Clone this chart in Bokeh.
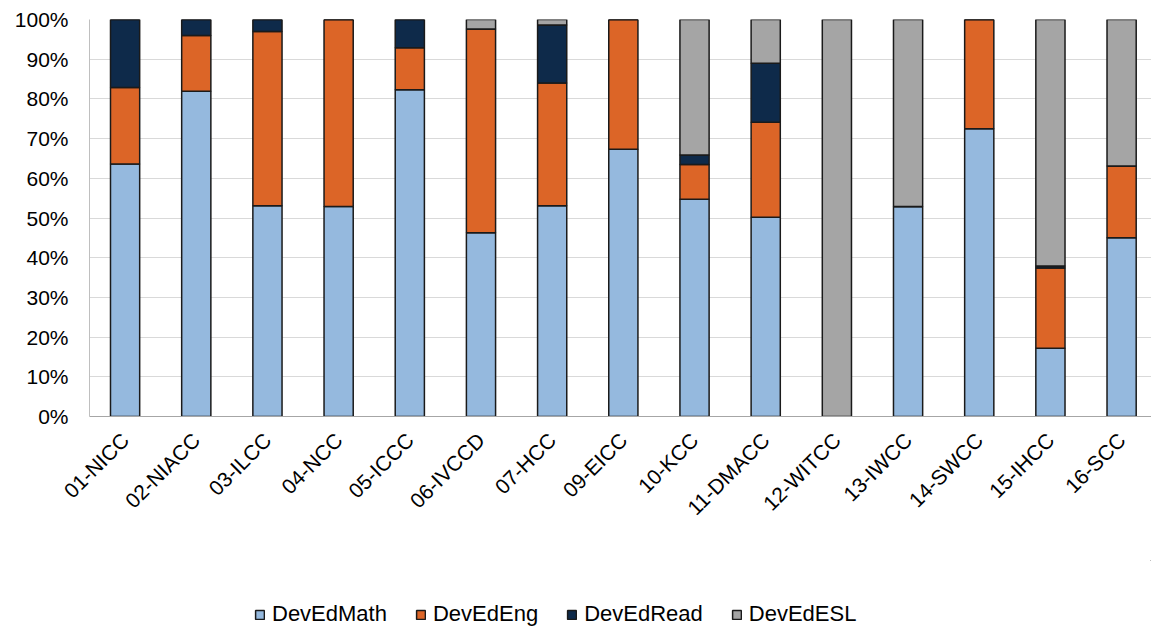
from bokeh.plotting import figure
from bokeh.models import (ColumnDataSource, Range1d, FixedTicker, PrintfTickFormatter,
                          Legend, LegendItem)
from bokeh.layouts import column
from bokeh.embed import file_html
from bokeh.resources import INLINE
import math as m

categories = ["01-NICC", "02-NIACC", "03-ILCC", "04-NCC", "05-ICCC", "06-IVCCD", "07-HCC",
              "09-EICC", "10-KCC", "11-DMACC", "12-WITCC", "13-IWCC", "14-SWCC", "15-IHCC", "16-SCC"]
dev_math = [63.6, 81.9, 53.1, 52.9, 82.3, 46.3, 53.1, 67.3, 54.7, 50.2, 0.0, 52.9, 72.5, 17.2, 45.0]
dev_eng = [19.3, 14.1, 43.9, 47.1, 10.6, 51.3, 30.9, 32.7, 8.8, 23.9, 0.0, 0.0, 27.5, 20.2, 18.1]
dev_read = [17.1, 4.0, 3.0, 0.0, 7.1, 0.0, 14.6, 0.0, 2.4, 14.9, 0.0, 0.0, 0.0, 0.5, 0.0]
dev_esl = [0.0, 0.0, 0.0, 0.0, 0.0, 2.4, 1.4, 0.0, 34.1, 11.0, 100.0, 47.1, 0.0, 62.1, 36.9]
series = ["DevEdMath", "DevEdEng", "DevEdRead", "DevEdESL"]
colors = ["#95b9de", "#dc6527", "#0e2a4a", "#a5a5a5"]
y_ticks = list(range(0, 101, 10))

xs = [i + 0.5 for i in range(len(categories))]
source = ColumnDataSource(dict(x=xs, DevEdMath=dev_math, DevEdEng=dev_eng,
                               DevEdRead=dev_read, DevEdESL=dev_esl))

FONT = "Liberation Sans"
W = 1151

p = figure(width=W, height=560, output_backend="svg", toolbar_location=None,
           x_range=Range1d(0, 14.92), y_range=Range1d(0, 100),
           min_border_left=89, min_border_right=0, min_border_top=19, min_border_bottom=144)
p.outline_line_color = None

renderers = p.vbar_stack(series, x="x", width=0.41, source=source, color=colors,
                         line_color="#1a1a1a", line_width=1.5)

# axes
p.yaxis.ticker = FixedTicker(ticks=y_ticks)
p.yaxis.formatter = PrintfTickFormatter(format="%d%%")
p.yaxis.major_tick_line_color = None
p.yaxis.minor_tick_line_color = None
p.yaxis.axis_line_color = "#bfbfbf"
p.yaxis.major_label_text_font = FONT
p.yaxis.major_label_text_font_size = "21px"
p.yaxis.major_label_text_color = "#000000"
p.yaxis.major_label_standoff = 15

p.xaxis.ticker = FixedTicker(ticks=xs)
p.xaxis.major_label_overrides = {x: c for x, c in zip(xs, categories)}
p.xaxis.major_tick_line_color = None
p.xaxis.minor_tick_line_color = None
p.xaxis.axis_line_color = "#a6a6a6"
p.xaxis.major_label_orientation = m.pi / 4
p.xaxis.major_label_text_font = FONT
p.xaxis.major_label_text_font_size = "21px"
p.xaxis.major_label_text_color = "#000000"
p.xaxis.major_label_standoff = 14

p.xgrid.grid_line_color = None
p.ygrid.ticker = FixedTicker(ticks=y_ticks)
p.ygrid.grid_line_color = "#d9d9d9"
p.ygrid.grid_line_width = 1

# legend in a separate strip below the chart (its glyph renderers sit outside the visible range)
lg = figure(width=W, height=70, output_backend="svg", toolbar_location=None,
            x_range=Range1d(0, 1), y_range=Range1d(0, 1),
            min_border_left=0, min_border_right=0, min_border_top=0, min_border_bottom=0)
lg.outline_line_color = None
lg.axis.visible = False
lg.grid.visible = False
dummy = [lg.vbar(x=[5], top=[5], bottom=[4], width=0.1, fill_color=c,
                 line_color="#1a1a1a", line_width=1.5)
         for c in colors]

legend = Legend(items=[LegendItem(label=s, renderers=[r]) for s, r in zip(series, dummy)],
                orientation="horizontal", location=(165, 3))
legend.label_text_font = FONT
legend.label_text_font_size = "22px"
legend.label_text_color = "#000000"
legend.glyph_width = 11
legend.glyph_height = 11
legend.label_standoff = 7
legend.spacing = 28
legend.padding = 0
legend.margin = 0
legend.border_line_color = None
legend.background_fill_alpha = 0
lg.add_layout(legend, "center")

layout = column(p, lg, spacing=0)
open("out.html", "w").write(file_html(layout, INLINE))
